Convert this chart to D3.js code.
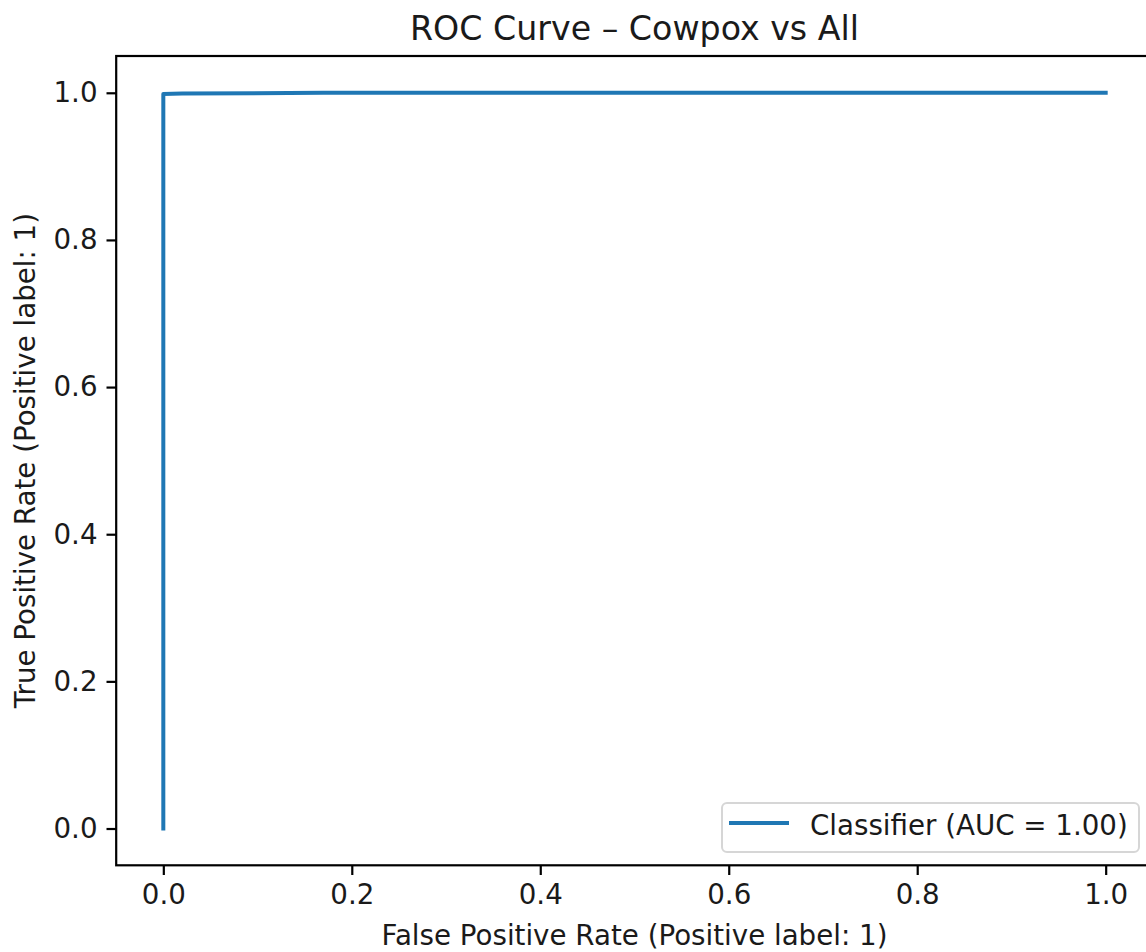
<!DOCTYPE html>
<html>
<head>
<meta charset="utf-8">
<script src="https://cdn.jsdelivr.net/npm/d3@7"></script>
<style>
  body { margin: 0; background: #fff; }
  svg text { font-family: "DejaVu Sans", sans-serif; fill: #1a1a1a; }
</style>
</head>
<body>
<div id="chart"></div>
<script>
// ROC points
const fpr = [0, 0, 0.02, 0.17, 1.0];
const tpr = [0, 0.9985, 0.999, 1.0, 1.0];
const xTicks = [0.0, 0.2, 0.4, 0.6, 0.8, 1.0];
const yTicks = [0.0, 0.2, 0.4, 0.6, 0.8, 1.0];
const titleText = "ROC Curve \u2013 Cowpox vs All";
const xLabel = "False Positive Rate (Positive label: 1)";
const yLabel = "True Positive Rate (Positive label: 1)";
const legendLabel = "Classifier (AUC = 1.00)";

const W = 1146, H = 952;
const fs = 27.7;
const svg = d3.select("#chart").append("svg")
    .attr("width", W).attr("height", H);

const x = d3.scaleLinear().domain([-0.05, 1.05]).range([116.2, 1152.8]);
const y = d3.scaleLinear().domain([-0.05, 1.05]).range([865.3, 56]);

const axL = x(-0.05), axR = x(1.05), axT = y(1.05), axB = y(-0.05);

// curve
const pts = fpr.map((f, i) => ({f: f, t: tpr[i]}));
const line = d3.line().x(d => x(d.f)).y(d => y(d.t));
svg.append("path")
    .datum(pts)
    .attr("fill", "none")
    .attr("stroke", "#1f77b4")
    .attr("stroke-width", 4)
    .attr("stroke-linejoin", "round")
    .attr("stroke-linecap", "square")
    .attr("d", line);

// axes
const xAxis = svg.append("g")
    .attr("transform", `translate(0,${axB})`)
    .call(d3.axisBottom(x).tickValues(xTicks).tickFormat(d3.format(".1f")).tickSizeInner(9.7).tickSizeOuter(0).tickPadding(9));
const yAxis = svg.append("g")
    .attr("transform", `translate(${axL},0)`)
    .call(d3.axisLeft(y).tickValues(yTicks).tickFormat(d3.format(".1f")).tickSizeInner(9.7).tickSizeOuter(0).tickPadding(9));
[xAxis, yAxis].forEach(a => {
  a.select(".domain").remove();
  a.selectAll(".tick line").attr("stroke", "#000").attr("stroke-width", 2.2);
  a.selectAll(".tick text").attr("font-size", fs).attr("font-family", "DejaVu Sans").attr("fill", "#1a1a1a");
});

// spines
svg.append("rect")
    .attr("x", axL).attr("y", axT)
    .attr("width", axR - axL).attr("height", axB - axT)
    .attr("fill", "none").attr("stroke", "#000").attr("stroke-width", 2.2);

// title and labels
svg.append("text")
    .attr("x", (axL + axR) / 2).attr("y", 40)
    .attr("text-anchor", "middle").attr("font-size", fs * 1.2)
    .text(titleText);
svg.append("text")
    .attr("x", (axL + axR) / 2).attr("y", 945)
    .attr("text-anchor", "middle").attr("font-size", fs)
    .text(xLabel);
svg.append("text")
    .attr("transform", `translate(35,${(axT + axB) / 2}) rotate(-90)`)
    .attr("text-anchor", "middle").attr("font-size", fs)
    .text(yLabel);

// legend
const lg = svg.append("g");
lg.append("rect")
    .attr("x", 722).attr("y", 803).attr("width", 417).attr("height", 49)
    .attr("rx", 5).attr("fill", "#fff").attr("fill-opacity", 0.8)
    .attr("stroke", "#d6d6d6").attr("stroke-width", 2);
lg.append("line")
    .attr("x1", 729).attr("x2", 789).attr("y1", 823).attr("y2", 823)
    .attr("stroke", "#1f77b4").attr("stroke-width", 4);
lg.append("text")
    .attr("x", 810).attr("y", 835).attr("font-size", fs)
    .text(legendLabel);
</script>
</body>
</html>
